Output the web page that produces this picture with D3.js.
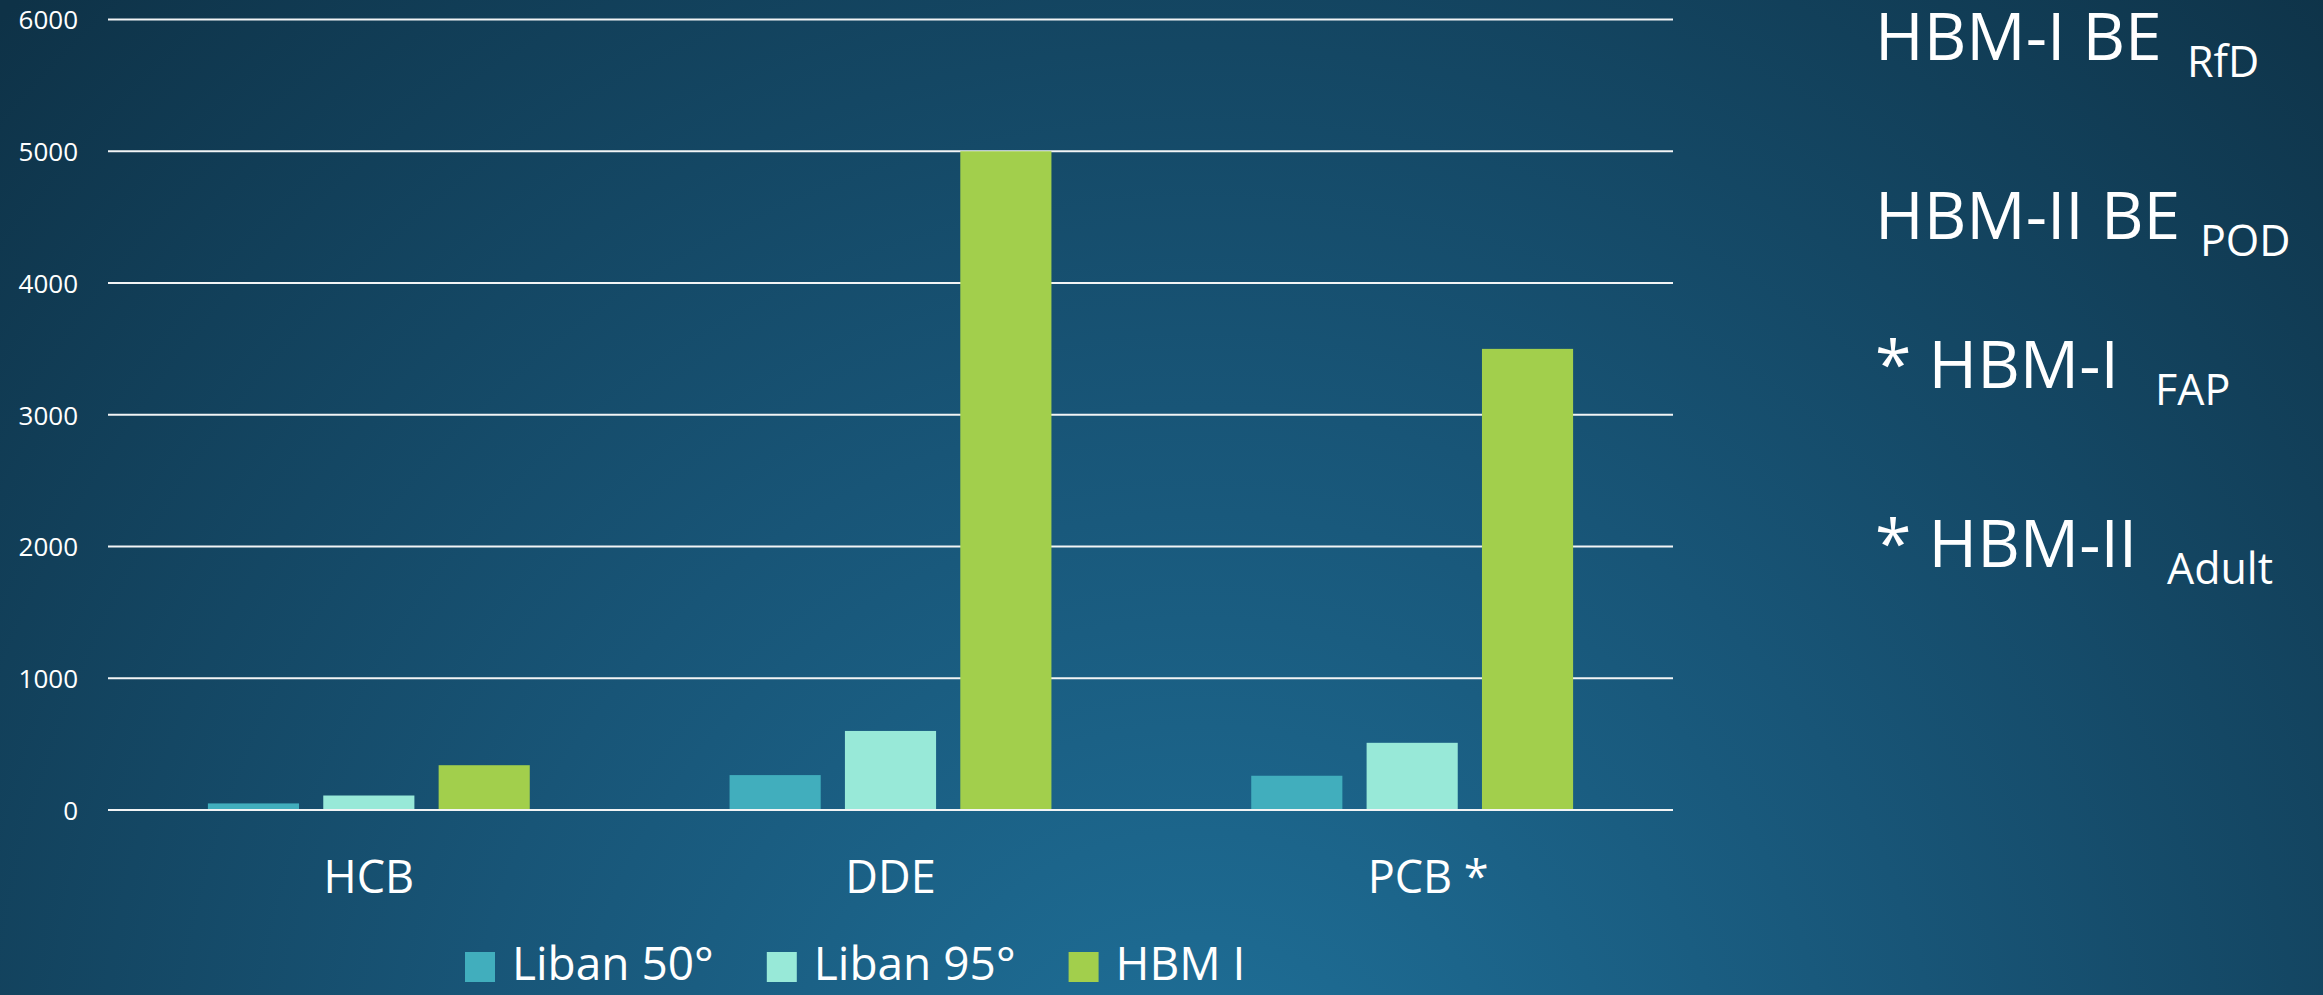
<!DOCTYPE html>
<html>
<head>
<meta charset="utf-8">
<script src="https://cdn.jsdelivr.net/npm/d3@7"></script>
<style>
  html, body { margin: 0; padding: 0; background: #12405a; }
  svg { display: block; }
  text { font-family: "Open Sans", "DejaVu Sans", sans-serif; fill: #ffffff; }
</style>
</head>
<body>
<svg id="chart" width="2323" height="995"></svg>
<script>
// Substances on the x axis
const categories = ["HCB", "DDE", "PCB *"];
// Series names (legend order) and their colours
const seriesNames = ["Liban 50°", "Liban 95°", "HBM I"];
const seriesColors = ["#41aebd", "#98e9d8", "#a2cf4c"];
// Values per series, one per category
const liban50 = [50, 265, 260];
const liban95 = [110, 600, 510];
const hbmI = [340, 5000, 3500];
// Y axis ticks
const yTicks = [0, 1000, 2000, 3000, 4000, 5000, 6000];

// Reference values listed on the right: main text and subscript
const notes = [
  { main: "HBM-I BE", sub: "RfD" },
  { main: "HBM-II BE", sub: "POD" },
  { main: "* HBM-I", sub: "FAP" },
  { main: "* HBM-II", sub: "Adult" }
];

const seriesValues = [liban50, liban95, hbmI];
const W = 2323, H = 995;
const svg = d3.select("#chart");

// Background: dark teal with a lighter glow near the bottom
const defs = svg.append("defs");
const rg = defs.append("radialGradient")
  .attr("id", "bg")
  .attr("gradientUnits", "userSpaceOnUse")
  .attr("cx", 1200).attr("cy", 1150).attr("r", 1650);
rg.append("stop").attr("offset", "0").attr("stop-color", "#1f719a");
rg.append("stop").attr("offset", "0.45").attr("stop-color", "#185577");
rg.append("stop").attr("offset", "1").attr("stop-color", "#0e3247");
svg.append("rect").attr("width", W).attr("height", H).attr("fill", "url(#bg)");

// Plot area
const plot = { left: 108, right: 1673, top: 19.5, bottom: 810 };

const y = d3.scaleLinear().domain([0, 6000]).range([plot.bottom, plot.top]);
const x0 = d3.scaleBand().domain(categories).range([plot.left, plot.right]).padding(0);
const groupWidth = x0.bandwidth() * 0.617;
const x1 = d3.scaleBand().domain(seriesNames).range([0, groupWidth]).paddingInner(0.21).paddingOuter(0);

// Horizontal gridlines (including the zero baseline)
svg.append("g")
  .selectAll("line")
  .data(yTicks)
  .join("line")
  .attr("x1", plot.left).attr("x2", plot.right)
  .attr("y1", d => y(d)).attr("y2", d => y(d))
  .attr("stroke", "#f2f4f5").attr("stroke-width", 2);

// Y axis labels
const yAxis = d3.axisLeft(y).tickValues(yTicks).tickSize(0).tickPadding(0).tickFormat(d3.format("d"));
const yg = svg.append("g").attr("transform", "translate(78,0)").call(yAxis);
yg.select(".domain").remove();
yg.selectAll("text")
  .attr("font-size", 26)
  .attr("fill", "#ffffff")
  .attr("font-family", "\"Open Sans\", sans-serif")
  .attr("dy", "0.36em");

// Bars
const groups = svg.append("g")
  .selectAll("g")
  .data(categories)
  .join("g")
  .attr("transform", d => `translate(${x0(d) + (x0.bandwidth() - groupWidth) / 2},0)`);

groups.selectAll("rect")
  .data((c, ci) => seriesNames.map((s, si) => ({ s, si, v: seriesValues[si][ci] })))
  .join("rect")
  .attr("x", d => x1(d.s))
  .attr("width", x1.bandwidth())
  .attr("y", d => y(d.v))
  .attr("height", d => y(0) - y(d.v))
  .attr("fill", d => seriesColors[d.si]);

// Redraw the baseline over the bar bottoms
svg.append("line")
  .attr("x1", plot.left).attr("x2", plot.right)
  .attr("y1", y(0)).attr("y2", y(0))
  .attr("stroke", "#f2f4f5").attr("stroke-width", 2);

// Category labels
const xAxis = d3.axisBottom(x0).tickSize(0).tickPadding(0);
const xg = svg.append("g").attr("transform", "translate(0,893)").call(xAxis);
xg.select(".domain").remove();
xg.selectAll("text")
  .attr("font-size", 45)
  .attr("fill", "#ffffff")
  .attr("font-family", "\"Open Sans\", sans-serif")
  .attr("y", 0).attr("dy", 0)
  .attr("dx", d => d === "PCB *" ? 16 : 0);

// Legend
const legend = svg.append("g").attr("transform", "translate(465,0)");
let lx = 0;
seriesNames.forEach((name, i) => {
  const item = legend.append("g").attr("transform", `translate(${lx},0)`);
  item.append("rect")
    .attr("x", 0).attr("y", 952).attr("width", 30).attr("height", 30)
    .attr("fill", seriesColors[i]);
  const t = item.append("text")
    .attr("x", 47).attr("y", 980)
    .attr("font-size", 46)
    .text(name);
  lx += 47 + t.node().getComputedTextLength() + 53;
});

// Notes on the right with subscripts
const noteLayout = [
  { y: 60, subX: 2187 },
  { y: 239, subX: 2200 },
  { y: 388, subX: 2155 },
  { y: 567, subX: 2167 }
];
notes.forEach((n, i) => {
  const t = svg.append("text").attr("y", noteLayout[i].y);
  t.append("tspan").attr("x", 1875).attr("font-size", 66).text(n.main);
  t.append("tspan").attr("x", noteLayout[i].subX).attr("dy", 17).attr("font-size", 43).text(n.sub);
});
</script>
</body>
</html>
